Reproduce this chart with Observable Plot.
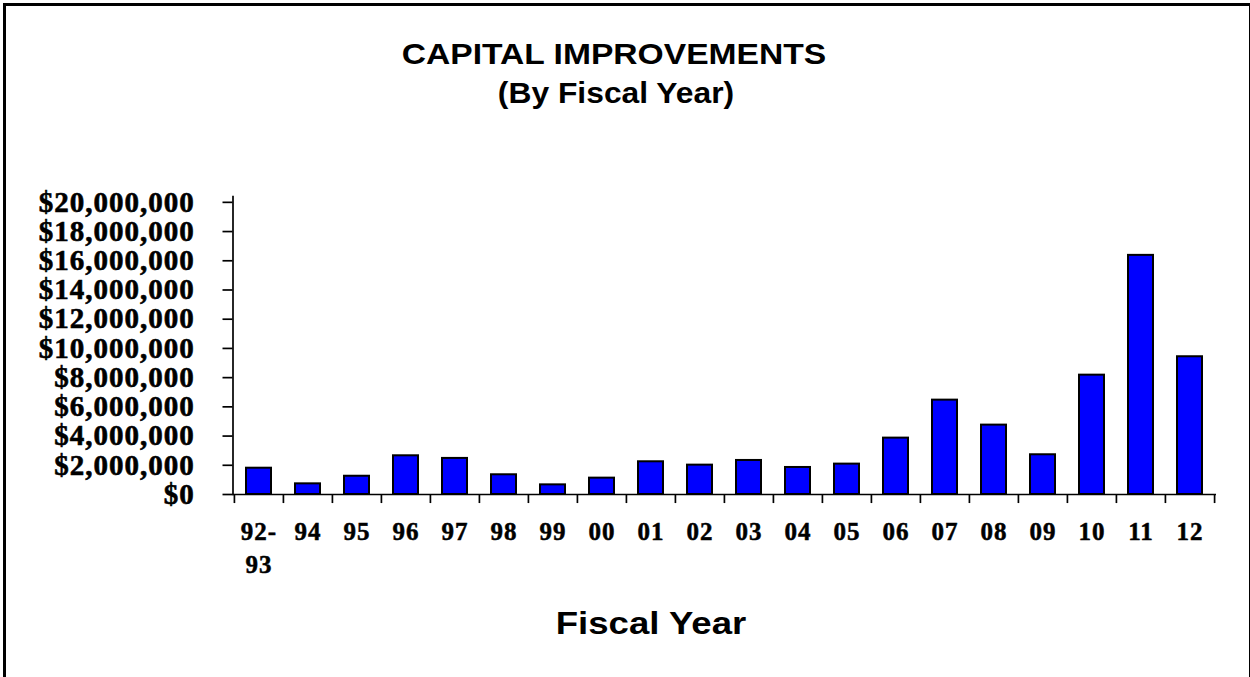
<!DOCTYPE html>
<html>
<head>
<meta charset="utf-8">
<script src="https://cdn.jsdelivr.net/npm/d3@7"></script>
<script src="https://cdn.jsdelivr.net/npm/@observablehq/plot@0.6"></script>
<style>
html, body { margin: 0; padding: 0; background: #fff; overflow: hidden; width: 1250px; height: 677px; }
#frame { position: absolute; left: 3px; top: 3px; width: 1243px; height: 760px; border: 3px solid #000; pointer-events: none; z-index: 5; }
.t { position: absolute; width: 700px; text-align: center; font-family: "Liberation Sans", Arial, sans-serif; font-weight: bold; color: #000; white-space: nowrap; transform-origin: center; }
#title { left: 264px; top: 39.1px; font-size: 30px; line-height: 30px; transform: scaleX(1.12); }
#subtitle { left: 266px; top: 77.6px; font-size: 30px; line-height: 30px; transform: scaleX(1.06); }
#xlabel { left: 301px; top: 607.7px; font-size: 31px; line-height: 31px; transform: scaleX(1.18); }
#chart { position: absolute; left: 0; top: 130px; }
#chart g[aria-label="y-axis tick label"] text { letter-spacing: 1px; stroke: #000; stroke-width: 0.6px; }
#chart g[aria-label="x-axis tick label"] text { letter-spacing: 1px; stroke: #000; stroke-width: 0.5px; }
</style>
</head>
<body>
<div id="frame"></div>
<div class="t" id="title">CAPITAL IMPROVEMENTS</div>
<div class="t" id="subtitle">(By Fiscal Year)</div>
<div id="chart"></div>
<div class="t" id="xlabel">Fiscal Year</div>
<script>
const categories = ["92-93", "94", "95", "96", "97", "98", "99", "00", "01", "02", "03", "04", "05", "06", "07", "08", "09", "10", "11", "12"];
const values = [1800000, 730000, 1250000, 2650000, 2470000, 1350000, 660000, 1120000, 2240000, 2010000, 2330000, 1850000, 2080000, 3860000, 6460000, 4750000, 2720000, 8170000, 16370000, 9430000];
const xTickLabels = ["92-\n93", "94", "95", "96", "97", "98", "99", "00", "01", "02", "03", "04", "05", "06", "07", "08", "09", "10", "11", "12"];
const yTicks = [0, 2000000, 4000000, 6000000, 8000000, 10000000, 12000000, 14000000, 16000000, 18000000, 20000000];

const data = categories.map((c, i) => ({cat: c, value: values[i]}));
const labelOf = new Map(categories.map((c, i) => [c, xTickLabels[i]]));

const W = 1250, H = 465, ML = 232.5, MR = 34, MT = 66, MB = 101;
const step = (W - ML - MR) / categories.length;
const fmt = d3.format(",");
const serif = "'Liberation Serif', 'Times New Roman', serif";

const chart = Plot.plot({
  width: W,
  height: H,
  marginLeft: ML,
  marginRight: MR,
  marginTop: MT,
  marginBottom: MB,
  style: {background: "transparent", overflow: "visible", color: "#000"},
  x: {domain: categories, paddingInner: 0.48, paddingOuter: 0.24, align: 0.5},
  y: {domain: [0, 20400000]},
  marks: [
    Plot.barY(data, {x: "cat", y: "value", fill: "#0000ff", stroke: "#000", strokeWidth: 2}),
    Plot.ruleY([0], {stroke: "#000", strokeWidth: 1.7}),
    Plot.frame({anchor: "left", stroke: "#000", strokeWidth: 1.7}),
    Plot.ruleX(categories, {x: d => d, y1: 0, y2: -620000, dx: -step / 2, stroke: "#000", strokeWidth: 1.7}),
    Plot.ruleX(categories.slice(-1), {x: d => d, y1: 0, y2: -620000, dx: step / 2, stroke: "#000", strokeWidth: 1.7}),
    Plot.axisY({ticks: yTicks, tickSize: 10, tickPadding: 28.2, strokeWidth: 1.7, label: null,
      tickFormat: d => "$" + fmt(d), fontSize: 29, fontWeight: "bold", fontFamily: serif}),
    Plot.axisX({tickSize: 0, tickPadding: 22.5, label: null, lineHeight: 1.32,
      tickFormat: d => labelOf.get(d), fontSize: 25, fontWeight: "bold", fontFamily: serif})
  ]
});
document.getElementById("chart").appendChild(chart);
</script>
</body>
</html>
